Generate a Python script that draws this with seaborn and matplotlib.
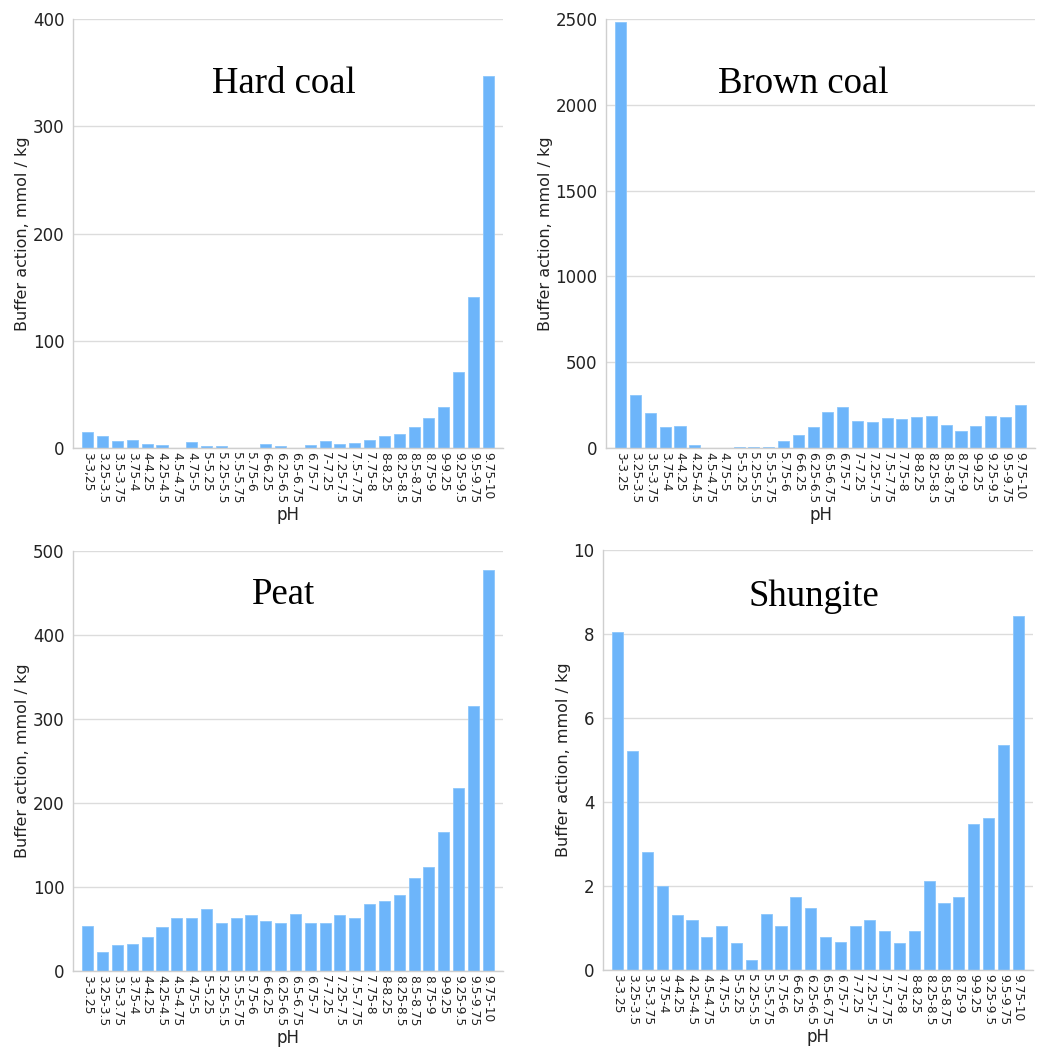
import matplotlib
matplotlib.use("Agg")
import matplotlib.pyplot as plt
import seaborn as sns
from matplotlib.ticker import MultipleLocator, AutoMinorLocator

# --- data ---
ph_bins = ['3-3.25', '3.25-3.5', '3.5-3.75', '3.75-4', '4-4.25', '4.25-4.5', '4.5-4.75',
           '4.75-5', '5-5.25', '5.25-5.5', '5.5-5.75', '5.75-6', '6-6.25', '6.25-6.5',
           '6.5-6.75', '6.75-7', '7-7.25', '7.25-7.5', '7.5-7.75', '7.75-8', '8-8.25',
           '8.25-8.5', '8.5-8.75', '8.75-9', '9-9.25', '9.25-9.5', '9.5-9.75', '9.75-10']
# the hard coal panel has a comma in its first label
ph_bins_hard = ['3-3,25'] + ph_bins[1:]

hard_coal = [15, 11.5, 6.8, 7.5, 3.7, 2.8, 0.3, 5.6, 1.9, 1.9, 0, 0, 3.7, 1.9,
             0, 2.5, 6.8, 3.7, 4.7, 7.5, 11.5, 12.7, 19.9, 27.6, 37.9, 70.8, 141, 346.6]
brown_coal = [2482, 311, 204, 121, 128, 19, 0, 2, 4, 4, 6, 43, 74, 121,
              210, 241, 160, 150, 175, 171, 183, 189, 134, 97, 128, 189, 181, 251]
peat = [53.6, 22.6, 30.6, 32.5, 40.9, 52.8, 63.5, 63.5, 73.8, 56.7, 63.5, 66.3, 59.5, 56.7,
        67.5, 56.7, 56.7, 66.3, 63.5, 79.4, 83.7, 90.5, 110.7, 123.4, 165, 217.9, 315.5, 477.4]
shungite = [8.06, 5.22, 2.80, 2.0, 1.32, 1.19, 0.79, 1.06, 0.65, 0.25, 1.33, 1.06, 1.73, 1.47,
            0.78, 0.67, 1.06, 1.19, 0.92, 0.65, 0.94, 2.13, 1.60, 1.74, 3.48, 3.62, 5.37, 8.44]

titles = ['Hard coal', 'Brown coal', 'Peat', 'Shungite']
y_max = [400, 2500, 500, 10]
y_step = [100, 500, 100, 2]

BAR_COLOR = '#6db5fa'
GRID_COLOR = '#dcdcdc'

sns.set_style("white")
plt.rcParams['font.family'] = ['DejaVu Sans']

fig = plt.figure(figsize=(10.4, 10.64), dpi=100)

# axes boxes in figure fractions: left, bottom, width, height
boxes = [
    [0.0702, 0.579, 0.4135, 0.403],
    [0.5827, 0.579, 0.4125, 0.403],
    [0.0702, 0.0874, 0.4135, 0.3947],
    [0.5798, 0.0883, 0.4135, 0.3947],
]
title_pos = [(0.49, 0.85), (0.46, 0.85), (0.49, 0.895), (0.49, 0.89)]

series = [hard_coal, brown_coal, peat, shungite]
labels = [ph_bins_hard, ph_bins, ph_bins, ph_bins]

for i in range(4):
    ax = fig.add_axes(boxes[i])
    sns.barplot(x=labels[i], y=series[i], ax=ax, color=BAR_COLOR,
                saturation=1, width=0.75, edgecolor='#8cc6fb', linewidth=0.6)
    ax.set_xlim(-1, 28)
    ax.set_ylim(0, y_max[i])
    ax.yaxis.set_major_locator(MultipleLocator(y_step[i]))
    ax.yaxis.set_minor_locator(AutoMinorLocator(2))
    ax.grid(axis='y', which='major', color=GRID_COLOR, linewidth=1)
    ax.set_axisbelow(True)

    for side in ['top', 'right']:
        ax.spines[side].set_visible(False)
    for side in ['left', 'bottom']:
        ax.spines[side].set_color('#cfcfcf')
        ax.spines[side].set_linewidth(1)

    ax.tick_params(axis='y', which='major', length=0, pad=6, labelsize=12, labelcolor='#222222')
    ax.tick_params(axis='y', which='minor', direction='in', length=4, color='#bbbbbb')
    ax.tick_params(axis='x', which='major', length=0, pad=3, labelsize=8.8,
                   labelrotation=270, labelcolor='#222222')

    ax.set_xlabel('pH', fontsize=12, color='#222222', labelpad=2)
    ax.set_ylabel('Buffer action, mmol / kg', fontsize=11.5, color='#222222', labelpad=2)

    ax.text(title_pos[i][0], title_pos[i][1], titles[i], transform=ax.transAxes,
            ha='center', va='center', fontsize=26.5, family='Liberation Serif', color='black')

plt.savefig("out.png", dpi=100)
